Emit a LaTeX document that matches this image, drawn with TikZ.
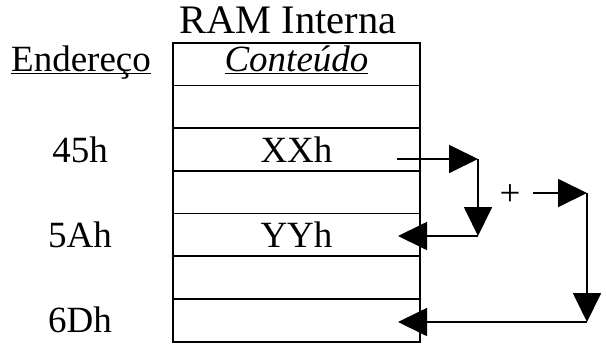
\documentclass[tikz,border=0pt]{standalone}
\usepackage{fontspec}
\setmainfont{Liberation Serif}
\usetikzlibrary{arrows.meta, positioning}

\begin{document}
\begin{tikzpicture}[x=1pt, y=-1pt,
        font=\fontsize{37}{42}\selectfont,
        cell/.style={draw, line width=1.8pt, minimum width=247pt, minimum height=42.7pt, inner sep=0pt},
        flow/.style={line width=1.8pt, -{Triangle[length=29pt, width=28pt]}}]

    \useasboundingbox (0,0) rectangle (607,346);

    %% Memory table
    \newcommand{\rowh}{42.7}
    \foreach \i/\txt in {1/, 2/, 3/XXh, 4/, 5/YYh, 6/, 7/} {
            \pgfmathsetmacro{\ymid}{\rowh*(\i+0.5)}
            \node[cell] (row\i) at (296.5,\ymid) {\txt};
        }

    % Headings
    \node[anchor=base, font=\fontsize{40.5}{44}\selectfont] (title) at (288,33.3) {RAM Interna};
    \node[anchor=base] (content) at (296.5,71.7) {\underline{\smash{\textit{Conteúdo}}}};
    \node[anchor=base] (address) at (81,71.7) {\underline{\smash{Endereço}}};

    % Addresses
    \node (a45) at (80,149.5) {45h};
    \node (a5A) at (80,234.9) {5Ah};
    \node (a6D) at (80,320.3) {6Dh};

    %% Addition
    \coordinate (xsrc) at (397,159);
    \coordinate (xcorner) at (478,159);
    \coordinate (ycorner) at (478,236);
    \coordinate (ydst) at (398,236);
    \draw[flow] (xsrc) -- (xcorner);
    \draw[flow] (xcorner) -- (ycorner);
    \draw[flow] (ycorner) -- (ydst);

    \node (plus) at (510,195) {+};
    \coordinate (ssrc) at (533,193);
    \coordinate (scorner) at (587,193);
    \coordinate (dcorner) at (587,322);
    \coordinate (ddst) at (398,322);
    \draw[flow] (ssrc) -- (scorner);
    \draw[flow] (scorner) -- (dcorner);
    \draw[flow] (dcorner) -- (ddst);

\end{tikzpicture}
\end{document}
